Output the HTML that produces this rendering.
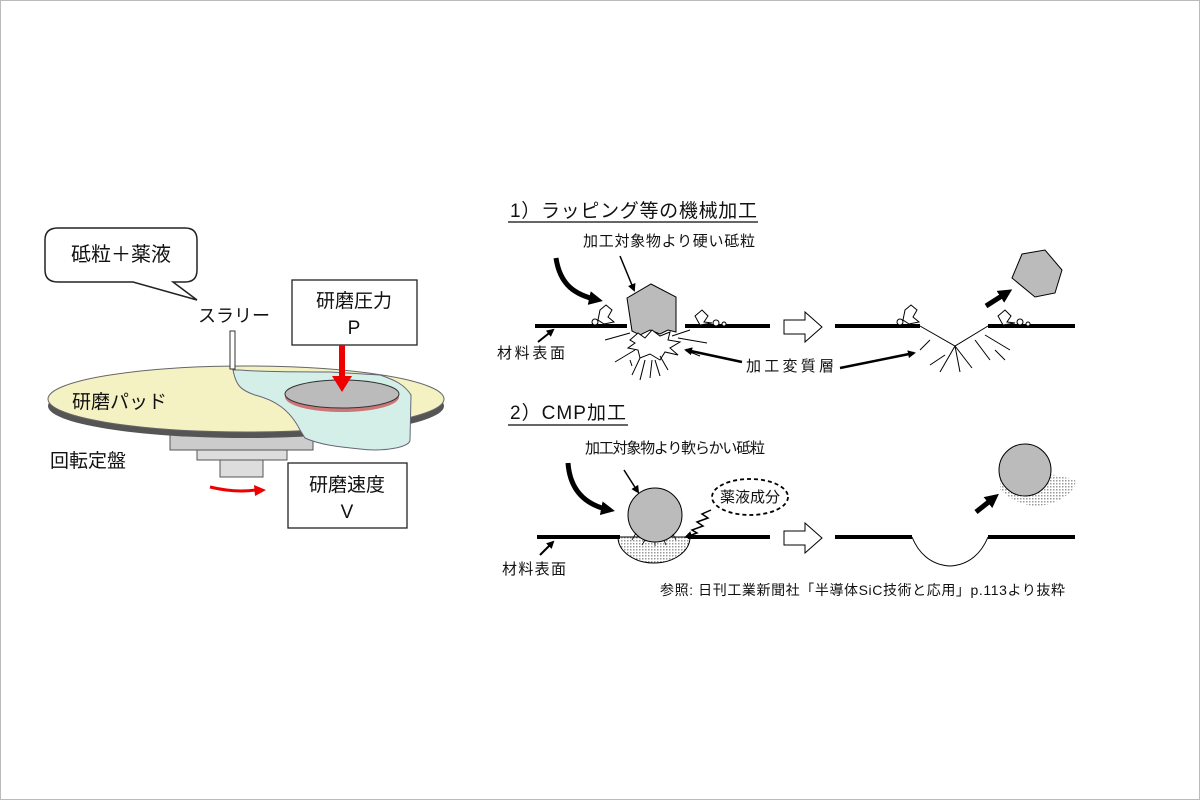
<!DOCTYPE html>
<html><head><meta charset="utf-8"><style>
html,body{margin:0;padding:0;background:#fff}
svg{display:block}
text{font-family:"Liberation Sans","Noto Sans CJK JP",sans-serif;fill:#111}
</style></head><body>
<svg width="1200" height="800" viewBox="0 0 1200 800" xmlns="http://www.w3.org/2000/svg">
<defs>
<pattern id="dots" width="3" height="3" patternUnits="userSpaceOnUse"><rect width="3" height="3" fill="#fff"/><rect width="1.5" height="1.5" fill="#999"/></pattern>
<marker id="ah" markerWidth="8" markerHeight="8" refX="6" refY="4" orient="auto" markerUnits="userSpaceOnUse"><path d="M0,0 L8,4 L0,8z" fill="#000"/></marker>
<marker id="ahb" markerWidth="14" markerHeight="14" refX="9" refY="7" orient="auto" markerUnits="userSpaceOnUse"><path d="M0,0 L14,7 L0,14z" fill="#000"/></marker>
</defs>
<rect x="0.5" y="0.5" width="1199" height="799" fill="#fff" stroke="#bbb"/>

<!-- LEFT: CMP apparatus -->
<path d="M58,228 H185 Q197,228 197,240 V270 Q197,282 185,282 H173 L197,300 L133,282 H58 Q45,282 45,270 V240 Q45,228 58,228Z" fill="#fff" stroke="#222" stroke-width="1.5"/>
<text x="121" y="261" font-size="20" text-anchor="middle">砥粒＋薬液</text>
<text x="198" y="322" font-size="18">スラリー</text>
<rect x="220" y="458" width="43" height="19" fill="#ddd" stroke="#555"/>
<rect x="197" y="448" width="90" height="12" fill="#ddd" stroke="#555"/>
<rect x="170" y="430" width="143" height="20" fill="#ccc" stroke="#555"/>
<ellipse cx="246" cy="406" rx="198" ry="32" fill="#555"/>
<ellipse cx="246" cy="399" rx="198" ry="33" fill="#f4f1c2" stroke="#666"/>
<path d="M233,370 C236,385 240,390 255,395 C275,400 290,410 300,430 L305,438 C320,445 340,447 360,449 C385,452 410,447 410,440 L411,395 C405,385 395,380 380,375 L330,372 C300,372 260,372 240,370Z" fill="#d4efe8" stroke="#667" stroke-width="1"/>
<rect x="230" y="331" width="5" height="38" fill="#fff" stroke="#333"/>
<ellipse cx="342" cy="397" rx="57" ry="15" fill="#c77" />
<ellipse cx="342" cy="394" rx="57" ry="14" fill="#bbb" stroke="#333"/>
<rect x="292" y="280" width="125" height="65" fill="#fff" stroke="#222" stroke-width="1.3"/>
<text x="354" y="307" font-size="19" text-anchor="middle">研磨圧力</text>
<text x="354" y="334" font-size="19" text-anchor="middle">P</text>
<rect x="339" y="345" width="6" height="33" fill="#e00"/>
<path d="M332,376 L352,376 L342,392Z" fill="#e00"/>
<text x="72" y="408" font-size="19">研磨パッド</text>
<text x="50" y="467" font-size="19">回転定盤</text>
<path d="M210,487 Q235,493 256,490" fill="none" stroke="#e00" stroke-width="3"/>
<path d="M254,485 L266,490 L255,496Z" fill="#e00"/>
<rect x="288" y="463" width="119" height="65" fill="#fff" stroke="#222" stroke-width="1.3"/>
<text x="347" y="491" font-size="19" text-anchor="middle">研磨速度</text>
<text x="347" y="518" font-size="19" text-anchor="middle">V</text>

<!-- RIGHT section 1 -->
<text x="510" y="217" font-size="19" textLength="247">1）ラッピング等の機械加工</text>
<line x1="508" y1="222" x2="758" y2="222" stroke="#333" stroke-width="1.5"/>
<text x="583" y="246" font-size="15" textLength="172">加工対象物より硬い砥粒</text>
<path d="M556,258 C560,285 575,295 598,300" fill="none" stroke="#000" stroke-width="5" marker-end="url(#ahb)"/>
<line x1="620" y1="256" x2="634" y2="290" stroke="#000" stroke-width="1.5" marker-end="url(#ah)"/>
<line x1="535" y1="326" x2="627" y2="326" stroke="#000" stroke-width="4"/>
<line x1="685" y1="326" x2="770" y2="326" stroke="#000" stroke-width="4"/>
<path d="M627,298 L651,284 L676,297 L676,332 L668,330 L660,334 L650,330 L640,335 L632,331 Z" fill="#bbb" stroke="#000"/>
<path d="M630,340 L638,333 L645,338 L652,330 L660,336 L670,332 L668,340 L680,342 L670,348 L678,355 L665,352 L660,360 L650,354 L640,358 L638,350 L628,348 L635,343Z" fill="#fff" stroke="#000"/>
<g stroke="#000" stroke-width="1">
<line x1="605" y1="340" x2="630" y2="333"/><line x1="615" y1="362" x2="635" y2="350"/><line x1="632" y1="375" x2="640" y2="358"/>
<line x1="640" y1="380" x2="645" y2="360"/><line x1="650" y1="378" x2="652" y2="360"/><line x1="660" y1="376" x2="655" y2="360"/>
<line x1="668" y1="370" x2="660" y2="356"/><line x1="678" y1="338" x2="707" y2="343"/><line x1="690" y1="330" x2="672" y2="336"/>
<line x1="690" y1="352" x2="700" y2="356"/><line x1="630" y1="360" x2="632" y2="366"/>
</g>
<path d="M600,310 L606,305 L612,310 L608,317 L614,322 L604,324 L598,320Z" fill="#fff" stroke="#000"/>
<circle cx="595" cy="322" r="3" fill="#fff" stroke="#000"/>
<path d="M695,316 L702,310 L708,316 L704,322 L712,323 L700,325Z" fill="#fff" stroke="#000"/>
<circle cx="716" cy="323" r="3" fill="#fff" stroke="#000"/><circle cx="724" cy="324" r="2" fill="#fff" stroke="#000"/>
<text x="497" y="358" font-size="15" textLength="68">材料表面</text>
<line x1="538" y1="342" x2="553" y2="330" stroke="#000" stroke-width="2" marker-end="url(#ah)"/>
<text x="746" y="371" font-size="15" textLength="88">加工変質層</text>
<line x1="742" y1="362" x2="686" y2="350" stroke="#000" stroke-width="2.5" marker-end="url(#ah)"/>
<line x1="840" y1="368" x2="914" y2="353" stroke="#000" stroke-width="2.5" marker-end="url(#ah)"/>
<path d="M784,320 H805 V312 L822,327 L805,342 V334 H784Z" fill="#fff" stroke="#000"/>
<line x1="835" y1="326" x2="920" y2="326" stroke="#000" stroke-width="4"/>
<line x1="988" y1="326" x2="1075" y2="326" stroke="#000" stroke-width="4"/>
<path d="M920,326 L955,346 L988,326" fill="none" stroke="#000"/>
<g stroke="#000" stroke-width="1">
<line x1="955" y1="346" x2="940" y2="372"/><line x1="955" y1="346" x2="960" y2="372"/><line x1="955" y1="346" x2="972" y2="368"/>
<line x1="945" y1="355" x2="930" y2="365"/><line x1="975" y1="340" x2="990" y2="360"/><line x1="985" y1="335" x2="1010" y2="350"/><line x1="930" y1="340" x2="920" y2="350"/><line x1="995" y1="350" x2="1005" y2="360"/>
</g>
<path d="M905,310 L911,305 L917,310 L913,317 L919,322 L909,324 L903,320Z" fill="#fff" stroke="#000"/>
<circle cx="900" cy="322" r="3" fill="#fff" stroke="#000"/>
<path d="M998,316 L1005,310 L1011,316 L1007,322 L1015,323 L1003,325Z" fill="#fff" stroke="#000"/>
<circle cx="1020" cy="322" r="3" fill="#fff" stroke="#000"/><circle cx="1028" cy="324" r="2" fill="#fff" stroke="#000"/>
<path d="M1022,254 L1045,250 L1062,270 L1055,293 L1035,297 L1012,278Z" fill="#bbb" stroke="#000"/>
<line x1="986" y1="306" x2="1008" y2="292" stroke="#000" stroke-width="5" marker-end="url(#ahb)"/>

<!-- RIGHT section 2 -->
<text x="510" y="419" font-size="19" textLength="116">2）CMP加工</text>
<line x1="508" y1="425" x2="628" y2="425" stroke="#333" stroke-width="1.5"/>
<text x="585" y="453" font-size="15" textLength="180">加工対象物より軟らかい砥粒</text>
<path d="M568,463 C570,490 585,505 610,510" fill="none" stroke="#000" stroke-width="5" marker-end="url(#ahb)"/>
<line x1="624" y1="470" x2="638" y2="492" stroke="#000" stroke-width="1.5" marker-end="url(#ah)"/>
<path d="M618,537 A36,26 0 0 0 690,537Z" fill="url(#dots)" stroke="#000"/>
<line x1="537" y1="537" x2="620" y2="537" stroke="#000" stroke-width="4"/>
<line x1="688" y1="537" x2="770" y2="537" stroke="#000" stroke-width="4"/>
<circle cx="655" cy="515" r="27" fill="#bbb" stroke="#000"/>
<g stroke="#000" stroke-width="0.8"><line x1="632" y1="540" x2="636" y2="533"/><line x1="642" y1="545" x2="645" y2="540"/><line x1="655" y1="546" x2="655" y2="542"/><line x1="666" y1="545" x2="664" y2="540"/><line x1="676" y1="540" x2="673" y2="534"/></g>
<ellipse cx="750" cy="497" rx="38" ry="18" fill="#fff" stroke="#000" stroke-width="1.8" stroke-dasharray="4,3"/>
<text x="750" y="502" font-size="15" text-anchor="middle">薬液成分</text>
<path d="M711,510 L702,514 L708,518 L697,522 L703,526 L692,530 L697,533 L686,537" fill="none" stroke="#000" stroke-width="1.5" marker-end="url(#ah)"/>
<text x="502" y="574" font-size="15" textLength="64">材料表面</text>
<line x1="540" y1="555" x2="553" y2="542" stroke="#000" stroke-width="2" marker-end="url(#ah)"/>
<path d="M784,531 H805 V523 L822,538 L805,553 V545 H784Z" fill="#fff" stroke="#000"/>
<line x1="835" y1="537" x2="912" y2="537" stroke="#000" stroke-width="4"/>
<line x1="988" y1="537" x2="1075" y2="537" stroke="#000" stroke-width="4"/>
<path d="M912,537 C918,552 930,565 950,566 C970,565 982,552 988,537" fill="none" stroke="#000"/>
<path d="M1000,478 C1020,470 1050,472 1075,480 C1078,490 1060,502 1045,505 C1025,508 1012,500 1000,490Z" fill="url(#dots)"/>
<circle cx="1025" cy="470" r="26" fill="#bbb" stroke="#000"/>
<line x1="976" y1="512" x2="995" y2="497" stroke="#000" stroke-width="5" marker-end="url(#ahb)"/>
<text x="660" y="595" font-size="14" textLength="405">参照: 日刊工業新聞社「半導体SiC技術と応用」p.113より抜粋</text>
</svg>
</body></html>
